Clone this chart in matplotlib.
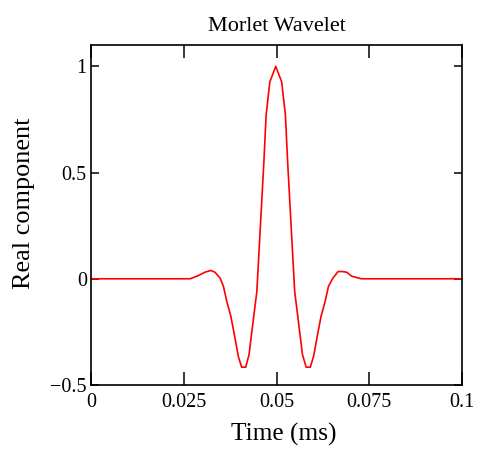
import matplotlib
matplotlib.use("Agg")
import matplotlib.pyplot as plt

plt.rcParams["font.family"] = ["Liberation Serif", "DejaVu Serif"]

# values (time in ms, real component)
time_ms = [
    0.0, 0.0267, 0.0275, 0.0288, 0.0307, 0.0323, 0.0334, 0.0348, 0.0357,
    0.0366, 0.0377, 0.0388, 0.0397, 0.0406, 0.0417, 0.0426, 0.0437, 0.0447,
    0.0466, 0.0472, 0.0482, 0.0498,
    0.0514, 0.0524, 0.0530, 0.0549, 0.0559, 0.0570, 0.0580, 0.0591, 0.0600,
    0.0609, 0.0620, 0.0631, 0.0640, 0.0652, 0.0666, 0.0677, 0.0689, 0.0703,
    0.0728, 0.1,
]
real_part = [
    0.0, 0.0, 0.005, 0.014, 0.031, 0.039, 0.031, 0.003, -0.036,
    -0.107, -0.177, -0.278, -0.365, -0.416, -0.416, -0.357, -0.200, -0.060,
    0.551, 0.770, 0.926, 1.0,
    0.926, 0.770, 0.551, -0.060, -0.200, -0.357, -0.416, -0.416, -0.365,
    -0.278, -0.177, -0.107, -0.036, 0.003, 0.034, 0.034, 0.031, 0.012,
    0.0, 0.0,
]

x_ticks = [0, 0.025, 0.05, 0.075, 0.1]
x_labels = ["0", "0.025", "0.05", "0.075", "0.1"]
y_ticks = [-0.5, 0, 0.5, 1]
y_labels = ["\u22120.5", "0", "0.5", "1"]

fig = plt.figure(figsize=(4.79, 4.57), dpi=100)
ax = fig.add_axes([0.19, 0.1575, 0.7745, 0.744])

ax.plot(time_ms, real_part, color="red", linewidth=1.2)

ax.set_xlim(0, 0.1)
ax.set_ylim(-0.5, 1.1)
ax.set_xticks(x_ticks)
ax.set_xticklabels(x_labels)
ax.set_yticks(y_ticks)
ax.set_yticklabels(y_labels)

ax.tick_params(axis="x", direction="in", length=9.5, width=1.1,
               top=True, labelsize=14.5, pad=6)
ax.tick_params(axis="y", direction="in", length=6, width=1.1,
               right=True, labelsize=14.5, pad=3)
for s in ax.spines.values():
    s.set_linewidth(1.2)

ax.set_title("Morlet Wavelet", fontsize=16, pad=10)
ax.set_xlabel("Time (ms)", fontsize=18.3, labelpad=6)
ax.set_ylabel("Real component", fontsize=18.9, labelpad=11)
ax.xaxis.set_label_coords(0.52, -0.11)
ax.yaxis.label.set_y(0.535)

fig.savefig("out.png", dpi=100)
